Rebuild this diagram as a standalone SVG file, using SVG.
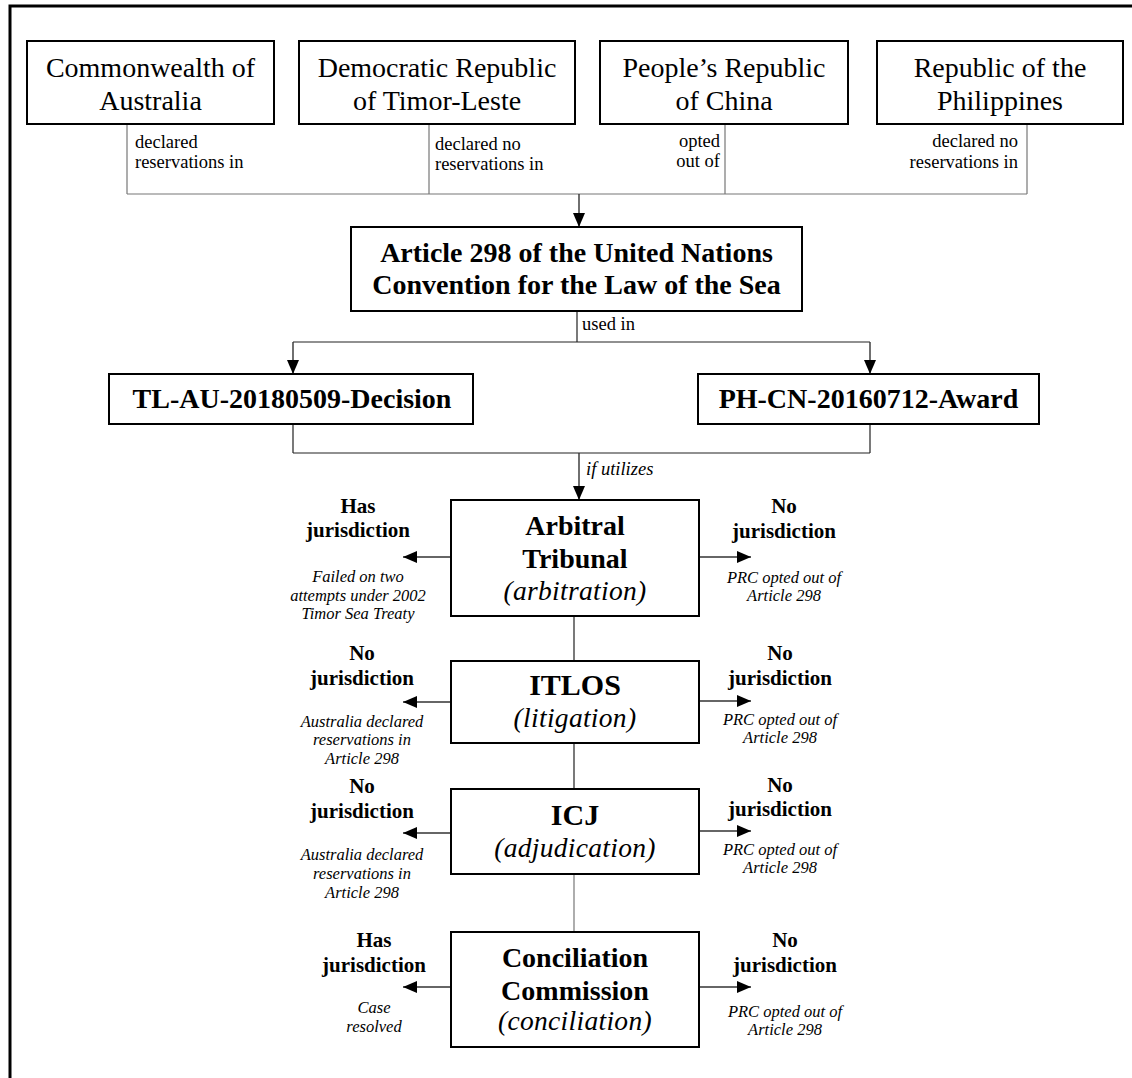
<svg xmlns="http://www.w3.org/2000/svg" width="1132" height="1078" viewBox="0 0 1132 1078" font-family="'Liberation Serif', 'Times New Roman', serif">
<defs>
<marker id="ah" viewBox="0 0 14 12" refX="14" refY="6" markerWidth="14" markerHeight="12" markerUnits="userSpaceOnUse" orient="auto">
<path d="M0,0 L14,6 L0,12 Z" fill="#000"/>
</marker>
<style>
.box{fill:#fff;stroke:#000;stroke-width:2}
.ln{fill:none;stroke:#777;stroke-width:1.2}
.lk{fill:none;stroke:#222;stroke-width:1.2}
.ar{fill:none;stroke:#333;stroke-width:1.4;marker-end:url(#ah)}
text{font-family:'Liberation Serif','Times New Roman',serif;fill:#000}
.big{font-size:28px}
.bb{font-size:28px;font-weight:bold}
.bx{font-size:30px;font-weight:bold}
.lab{font-size:18.5px}
.jur{font-size:21px;font-weight:bold}
.note{font-size:16.5px;font-style:italic}
.sub{font-size:27.5px;font-style:italic;letter-spacing:0.3px}
.mid{text-anchor:middle}
.end{text-anchor:end}
</style>
</defs>
<rect width="1132" height="1078" fill="#fff"/>
<path d="M10,1078 L10,6 L1132,6" fill="none" stroke="#000" stroke-width="3"/>

<g id="connectors">
<path class="ln" d="M127,124 V194 M429,124 V194 M725,124 V194 M1027,124 V194 M127,194 H1027"/>
<path class="ar" d="M579,194 V227"/>
<path class="lk" d="M577,311 V342 M293,342 H870"/>
<path class="ar" d="M293,342 V374"/>
<path class="ar" d="M870,342 V374"/>
<path class="lk" d="M293,424 V453 M870,424 V453 M293,453 H870"/>
<path class="ar" d="M579,453 V500"/>
<path class="lk" d="M574,616 V661 M574,743 V789"/>
<path class="ln" d="M574,874 V932"/>
<path class="ar" d="M451,557 H403"/>
<path class="ar" d="M699,557 H751"/>
<path class="ar" d="M451,702 H403"/>
<path class="ar" d="M699,701 H751"/>
<path class="ar" d="M451,833 H403"/>
<path class="ar" d="M699,831 H751"/>
<path class="ar" d="M451,987 H403"/>
<path class="ar" d="M699,987 H751"/>
<text class="lab" x="135" y="148">declared</text>
<text class="lab" x="135" y="168">reservations in</text>
<text class="lab" x="435" y="150">declared no</text>
<text class="lab" x="435" y="170">reservations in</text>
<text class="lab end" x="720" y="147">opted</text>
<text class="lab end" x="720" y="167">out of</text>
<text class="lab end" x="1018" y="147">declared no</text>
<text class="lab end" x="1018" y="168">reservations in</text>
<text class="lab" x="582" y="330">used in</text>
<text class="lab" x="586" y="475" font-style="italic">if utilizes</text>
</g>

<g id="n-australia">
<rect class="box" x="27" y="41" width="247" height="83"/>
<text class="big mid" x="150.5" y="77">Commonwealth of</text>
<text class="big mid" x="150.5" y="110">Australia</text>
</g>
<g id="n-timor">
<rect class="box" x="299" y="41" width="276" height="83"/>
<text class="big mid" x="437" y="77">Democratic Republic</text>
<text class="big mid" x="437" y="110">of Timor-Leste</text>
</g>
<g id="n-china">
<rect class="box" x="600" y="41" width="248" height="83"/>
<text class="big mid" x="724" y="77">People’s Republic</text>
<text class="big mid" x="724" y="110">of China</text>
</g>
<g id="n-philippines">
<rect class="box" x="877" y="41" width="246" height="83"/>
<text class="big mid" x="1000" y="77">Republic of the</text>
<text class="big mid" x="1000" y="110">Philippines</text>
</g>

<g id="n-article">
<rect class="box" x="351" y="227" width="451" height="84"/>
<text class="bb mid" x="576.5" y="262">Article 298 of the United Nations</text>
<text class="bb mid" x="576.5" y="294">Convention for the Law of the Sea</text>
</g>

<g id="n-tl">
<rect class="box" x="109" y="374" width="364" height="50"/>
<text class="bb mid" x="292" y="408">TL-AU-20180509-Decision</text>
</g>
<g id="n-ph">
<rect class="box" x="698" y="374" width="341" height="50"/>
<text class="bb mid" x="868.5" y="408">PH-CN-20160712-Award</text>
</g>

<g id="n-arbitral">
<rect class="box" x="451" y="500" width="248" height="116"/>
<text class="bb mid" x="575" y="535">Arbitral</text>
<text class="bb mid" x="575" y="568">Tribunal</text>
<text class="sub mid" x="575" y="600">(arbitration)</text>
<text class="jur mid" x="358" y="513">Has</text>
<text class="jur mid" x="358" y="537">jurisdiction</text>
<text class="note mid" x="358" y="582">Failed on two</text>
<text class="note mid" x="358" y="601">attempts under 2002</text>
<text class="note mid" x="358" y="619">Timor Sea Treaty</text>
<text class="jur mid" x="784" y="513">No</text>
<text class="jur mid" x="784" y="538">jurisdiction</text>
<text class="note mid" x="784" y="583">PRC opted out of</text>
<text class="note mid" x="784" y="601">Article 298</text>
</g>

<g id="n-itlos">
<rect class="box" x="451" y="661" width="248" height="82"/>
<text class="bx mid" x="575" y="695">ITLOS</text>
<text class="sub mid" x="575" y="727">(litigation)</text>
<text class="jur mid" x="362" y="660">No</text>
<text class="jur mid" x="362" y="685">jurisdiction</text>
<text class="note mid" x="362" y="727">Australia declared</text>
<text class="note mid" x="362" y="745">reservations in</text>
<text class="note mid" x="362" y="764">Article 298</text>
<text class="jur mid" x="780" y="660">No</text>
<text class="jur mid" x="780" y="685">jurisdiction</text>
<text class="note mid" x="780" y="725">PRC opted out of</text>
<text class="note mid" x="780" y="743">Article 298</text>
</g>

<g id="n-icj">
<rect class="box" x="451" y="789" width="248" height="85"/>
<text class="bx mid" x="575" y="825">ICJ</text>
<text class="sub mid" x="575" y="857">(adjudication)</text>
<text class="jur mid" x="362" y="793">No</text>
<text class="jur mid" x="362" y="818">jurisdiction</text>
<text class="note mid" x="362" y="860">Australia declared</text>
<text class="note mid" x="362" y="879">reservations in</text>
<text class="note mid" x="362" y="898">Article 298</text>
<text class="jur mid" x="780" y="792">No</text>
<text class="jur mid" x="780" y="816">jurisdiction</text>
<text class="note mid" x="780" y="855">PRC opted out of</text>
<text class="note mid" x="780" y="873">Article 298</text>
</g>

<g id="n-conciliation">
<rect class="box" x="451" y="932" width="248" height="115"/>
<text class="bb mid" x="575" y="967">Conciliation</text>
<text class="bb mid" x="575" y="1000">Commission</text>
<text class="sub mid" x="575" y="1030">(conciliation)</text>
<text class="jur mid" x="374" y="947">Has</text>
<text class="jur mid" x="374" y="972">jurisdiction</text>
<text class="note mid" x="374" y="1013">Case</text>
<text class="note mid" x="374" y="1032">resolved</text>
<text class="jur mid" x="785" y="947">No</text>
<text class="jur mid" x="785" y="972">jurisdiction</text>
<text class="note mid" x="785" y="1017">PRC opted out of</text>
<text class="note mid" x="785" y="1035">Article 298</text>
</g>
</svg>
